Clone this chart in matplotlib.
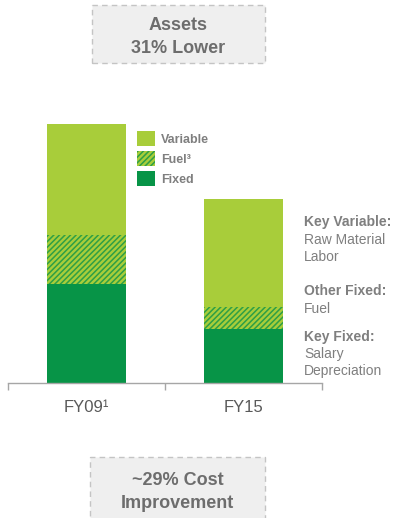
import matplotlib.pyplot as plt
from matplotlib.patches import Rectangle

plt.rcParams['font.family'] = ['Liberation Sans', 'DejaVu Sans']
plt.rcParams['hatch.linewidth'] = 1.1

# Cost build-up, FY09 total = 100
years = ['FY09\u00b9', 'FY15']
fixed = [38.2, 20.8]
fuel = [18.9, 8.5]
variable = [42.9, 41.7]

light_green = '#a8cd3a'
dark_green = '#079447'
stripe_green = '#2e9f45'
grey_text = '#7f7f7f'

fig = plt.figure(figsize=(4.0, 5.18), dpi=100)
ax = fig.add_axes([0.02, 0.2606, 0.785, 0.55])

x = range(len(years))
w = 0.5
b1 = ax.bar(x, fixed, width=w, color=dark_green, linewidth=0, label='Fixed')
b2 = ax.bar(x, fuel, width=w, bottom=fixed, facecolor=light_green,
            edgecolor=stripe_green, hatch='//////', linewidth=0, label='Fuel\u00b3')
bottom2 = [a + b for a, b in zip(fixed, fuel)]
b3 = ax.bar(x, variable, width=w, bottom=bottom2, color=light_green,
            linewidth=0, label='Variable')

ax.set_xlim(-0.5, 1.5)
ax.set_ylim(0, 110)
for s in ['top', 'right', 'left']:
    ax.spines[s].set_visible(False)
ax.spines['bottom'].set_color('#a6a6a6')
ax.spines['bottom'].set_linewidth(1.0)
ax.set_yticks([])
ax.set_xticks(list(x))
ax.set_xticklabels(years, fontsize=12, color='#595959')
ax.tick_params(axis='x', which='major', length=0, pad=12)
ax.set_xticks([-0.5, 0.5, 1.5], minor=True)
ax.tick_params(axis='x', which='minor', length=5, width=1.0,
               color='#a6a6a6', direction='out')

leg = ax.legend([b3, b2, b1], ['Variable', 'Fuel\u00b3', 'Fixed'],
                loc='upper left', bbox_to_anchor=(0.3425, 0.747),
                bbox_transform=fig.transFigure, frameon=False,
                borderpad=0, borderaxespad=0, handlelength=1.4,
                handleheight=1.45, labelspacing=0.42, handletextpad=0.5,
                prop={'size': 9, 'weight': 'bold'})
for t in leg.get_texts():
    t.set_color(grey_text)

# Side notes
notes = [
    ('Key Variable:', 226, True), ('Raw Material', 244, False), ('Labor', 261, False),
    ('Other Fixed:', 295, True), ('Fuel', 313, False),
    ('Key Fixed:', 341, True), ('Salary', 358, False), ('Depreciation', 375, False),
]
for txt, ypx, bold in notes:
    fig.text(304 / 400, 1 - ypx / 518, txt, fontsize=10, color=grey_text,
             fontweight='bold' if bold else 'normal', va='baseline', ha='left')


def callout(x0, y0, x1, y1, text, lines_y):
    fig.patches.append(Rectangle((x0 / 400, 1 - y1 / 518), (x1 - x0) / 400,
                                 (y1 - y0) / 518, transform=fig.transFigure,
                                 facecolor='#efefef', edgecolor='#c4c4c4',
                                 linestyle=(0, (4, 3)), linewidth=1.0))
    for line, ypx in zip(text, lines_y):
        fig.text((x0 + x1) / 2 / 400, 1 - ypx / 518, line, fontsize=13,
                 fontweight='bold', color='#6d6d6d', ha='center', va='baseline')


callout(92, 5, 265, 63, ['Assets', '31% Lower'], [30, 53])
callout(90, 457, 265, 530, ['~29% Cost', 'Improvement'], [485, 508])

fig.savefig('out.png', dpi=100)
